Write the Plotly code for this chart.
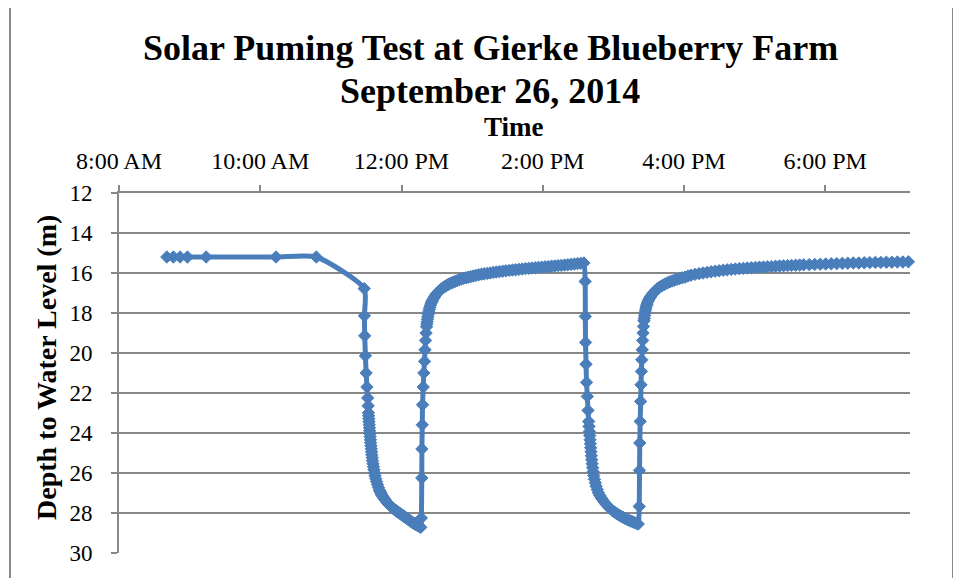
import plotly.graph_objects as go

# ---------------- data (time of day in decimal hours, depth to water in m) -------------
pre_time = [8.677, 8.770, 8.865, 8.969, 9.234, 10.223, 10.794]
pre_depth = [15.20, 15.20, 15.20, 15.20, 15.20, 15.20, 15.20]

# pumping cycle 1 - drawdown (logger readings, listed in two passes)
dd1_time = [11.472, 11.475, 11.479, 11.489, 11.499, 11.511, 11.521, 11.528, 11.532, 11.537,
            11.543, 11.549, 11.556, 11.563, 11.572, 11.580, 11.590, 11.603, 11.617, 11.635,
            11.660, 11.688, 11.705, 11.723, 11.745, 11.766, 11.791, 11.816, 11.841, 11.865,
            11.889, 11.915, 11.940, 11.965, 11.989, 12.014, 12.039, 12.064, 12.088, 12.113,
            12.139, 12.163, 12.187, 12.213, 12.238, 12.262, 12.272,
            11.5345, 11.540, 11.546, 11.5525, 11.5595, 11.5675, 11.576, 11.585, 11.5965, 11.610,
            11.626, 11.6475, 11.674, 11.6965, 11.714, 11.734, 11.7555, 11.7785, 11.8035, 11.8285,
            11.853, 11.877, 11.902, 11.9275, 11.9525, 11.977, 12.0015, 12.0265, 12.0515, 12.076,
            12.1005, 12.126, 12.151, 12.175, 12.200, 12.2255, 12.250]
dd1_depth = [16.78, 18.14, 19.14, 20.14, 21.00, 21.70, 22.25, 22.64, 22.99, 23.29,
             23.59, 23.89, 24.19, 24.49, 24.79, 25.09, 25.39, 25.69, 25.99, 26.29,
             26.59, 26.86, 26.99, 27.11, 27.23, 27.34, 27.45, 27.54, 27.63, 27.71,
             27.79, 27.86, 27.93, 27.99, 28.05, 28.11, 28.18, 28.24, 28.30, 28.36,
             28.43, 28.49, 28.54, 28.59, 28.64, 28.69, 28.72,
             23.14, 23.44, 23.74, 24.04, 24.34, 24.64, 24.94, 25.24, 25.54, 25.84,
             26.14, 26.44, 26.73, 26.93, 27.05, 27.17, 27.29, 27.40, 27.50, 27.59,
             27.67, 27.75, 27.83, 27.90, 27.96, 28.02, 28.08, 28.15, 28.21, 28.27,
             28.33, 28.40, 28.46, 28.52, 28.57, 28.62, 28.67]

# recovery 1
rec1_time = [12.281, 12.287, 12.289, 12.294, 12.298, 12.308, 12.316, 12.326, 12.333, 12.340,
             12.348, 12.355, 12.363, 12.373, 12.386, 12.401, 12.420, 12.443, 12.468, 12.496,
             12.529, 12.567, 12.610, 12.655, 12.705, 12.759, 12.817, 12.879, 12.946, 13.017,
             13.092, 13.172, 13.213, 13.255, 13.299, 13.343, 13.387, 13.433, 13.478, 13.525,
             13.571, 13.617, 13.663, 13.709, 13.755, 13.801, 13.847, 13.894, 13.940, 13.986,
             14.032, 14.078, 14.124, 14.170, 14.216, 14.262, 14.309, 14.355, 14.401, 14.447,
             14.492, 14.539, 14.582,
             12.359, 12.368, 12.379, 12.393, 12.410, 12.431, 12.455, 12.482, 12.512, 12.548,
             12.588, 12.632, 12.680, 12.732, 12.788, 12.848, 12.912, 12.981, 13.054, 13.132]
rec1_depth = [28.25, 26.25, 24.80, 23.59, 22.59, 21.70, 21.00, 20.42, 19.84, 19.37,
              19.00, 18.69, 18.44, 18.19, 17.94, 17.71, 17.51, 17.34, 17.19, 17.04,
              16.91, 16.79, 16.69, 16.59, 16.50, 16.42, 16.34, 16.27, 16.21, 16.15,
              16.09, 16.04, 16.02, 16.00, 15.97, 15.95, 15.93, 15.91, 15.89, 15.87,
              15.85, 15.84, 15.82, 15.80, 15.78, 15.77, 15.75, 15.74, 15.72, 15.71,
              15.69, 15.68, 15.66, 15.65, 15.63, 15.62, 15.60, 15.59, 15.57, 15.55,
              15.53, 15.52, 15.50,
              18.56, 18.31, 18.06, 17.82, 17.61, 17.42, 17.26, 17.11, 16.97, 16.85,
              16.74, 16.64, 16.54, 16.46, 16.38, 16.30, 16.24, 16.18, 16.12, 16.06]

# pumping cycle 2 - drawdown
dd2_time = [14.600, 14.603, 14.606, 14.613, 14.620, 14.631, 14.641, 14.650, 14.660, 14.670,
            14.678, 14.688, 14.699, 14.713, 14.732, 14.756, 14.787, 14.827, 14.872, 14.922,
            14.976, 15.030, 15.084, 15.138, 15.191, 15.245, 15.299, 15.352,
            14.655, 14.665, 14.674, 14.683, 14.6935, 14.706, 14.7225, 14.744, 14.7715, 14.807,
            14.8495, 14.897, 14.949, 15.003, 15.057, 15.111, 15.1645, 15.218, 15.272, 15.3255]
dd2_depth = [16.42, 18.17, 19.47, 20.56, 21.47, 22.17, 22.87, 23.42, 23.92, 24.34,
             24.74, 25.14, 25.54, 25.94, 26.31, 26.66, 26.99, 27.24, 27.46, 27.66,
             27.84, 27.99, 28.11, 28.22, 28.32, 28.40, 28.48, 28.55,
             23.67, 24.13, 24.54, 24.94, 25.34, 25.74, 26.13, 26.49, 26.83, 27.12,
             27.35, 27.56, 27.75, 27.92, 28.05, 28.17, 28.27, 28.36, 28.44, 28.52]

# recovery 2
rec2_time = [15.366, 15.370, 15.374, 15.380, 15.386, 15.391, 15.397, 15.402, 15.409, 15.414,
             15.420, 15.426, 15.433, 15.441, 15.452, 15.467, 15.485, 15.508, 15.535, 15.566,
             15.603, 15.645, 15.692, 15.745, 15.801, 15.865, 15.936, 16.014,
             15.437, 15.446, 15.459, 15.476, 15.496, 15.521, 15.550, 15.584, 15.624, 15.668,
             15.718, 15.773, 15.833, 15.900, 15.975, 16.056,
             16.099, 16.156, 16.213, 16.270, 16.327, 16.384, 16.441, 16.498, 16.555, 16.612,
             16.669, 16.726, 16.783, 16.840, 16.897, 16.954, 17.011, 17.068, 17.125, 17.182,
             17.239, 17.296, 17.353, 17.410, 17.467, 17.524, 17.581, 17.638, 17.695, 17.773,
             17.851, 17.929, 18.007, 18.085, 18.163, 18.241, 18.319, 18.397, 18.475, 18.553,
             18.631, 18.709, 18.787, 18.865, 18.943, 19.021, 19.099, 19.177, 19.213]
rec2_depth = [27.67, 25.87, 24.50, 23.42, 22.42, 21.59, 20.92, 20.34, 19.84, 19.37,
              19.00, 18.67, 18.39, 18.14, 17.89, 17.66, 17.46, 17.29, 17.14, 16.99,
              16.85, 16.74, 16.63, 16.53, 16.44, 16.36, 16.28, 16.21,
              18.27, 18.02, 17.78, 17.56, 17.37, 17.21, 17.06, 16.92, 16.79, 16.68,
              16.58, 16.48, 16.40, 16.32, 16.24, 16.15,
              16.11, 16.07, 16.03, 16.00, 15.97, 15.94, 15.91, 15.89, 15.86, 15.84,
              15.82, 15.80, 15.78, 15.77, 15.75, 15.74, 15.72, 15.71, 15.70, 15.69,
              15.68, 15.66, 15.65, 15.64, 15.63, 15.62, 15.61, 15.60, 15.59, 15.58,
              15.57, 15.56, 15.55, 15.54, 15.53, 15.52, 15.51, 15.50, 15.50, 15.49,
              15.48, 15.47, 15.47, 15.46, 15.46, 15.45, 15.45, 15.44, 15.44]

x_tick_vals = [8, 10, 12, 14, 16, 18]
x_tick_text = ["8:00 AM", "10:00 AM", "12:00 PM", "2:00 PM", "4:00 PM", "6:00 PM"]
y_tick_vals = [12, 14, 16, 18, 20, 22, 24, 26, 28, 30]

title_line1 = "Solar Puming Test at Gierke Blueberry Farm"
title_line2 = "September 26, 2014"
x_title = "Time"
y_title = "Depth to Water Level (m)"

# ---------------- figure ----------------
time_all, depth_all = [], []
for tt, dd in [(pre_time, pre_depth), (dd1_time, dd1_depth), (rec1_time, rec1_depth),
               (dd2_time, dd2_depth), (rec2_time, rec2_depth)]:
    for t, d in sorted(zip(tt, dd)):
        time_all.append(t)
        depth_all.append(d)

# the page body has an 8px margin, so the figure is laid out 8px smaller
W, H = 953, 570
L, T = 111, 185
PW, PH = 791, 360
R, B = W - L - PW, H - T - PH

def px(x):   # page pixel -> paper fraction
    return (x - 119) / PW

def py(y):
    return (553 - y) / PH

BLUE = "#4A7EBB"
GRID = "#878787"
FONT = "Liberation Serif, Times New Roman, serif"

fig = go.Figure()
fig.add_trace(go.Scatter(
    x=time_all, y=depth_all, mode="lines+markers",
    line=dict(color=BLUE, width=5, shape="spline", smoothing=0.6),
    marker=dict(symbol="diamond", size=9.5, color=BLUE, line=dict(color=BLUE, width=1)),
    cliponaxis=False, showlegend=False, hoverinfo="x+y",
))

fig.update_layout(
    width=W, height=H,
    margin=dict(l=L, r=R, t=T, b=B, pad=0),
    paper_bgcolor="white", plot_bgcolor="white",
    font=dict(family=FONT, color="black", size=24),
    xaxis=dict(
        range=[8, 19.2], side="top", tickvals=x_tick_vals, ticktext=x_tick_text,
        ticks="outside", ticklen=6, tickwidth=1.5, tickcolor=GRID,
        showline=True, linecolor=GRID, linewidth=1.7, showgrid=False, zeroline=False,
        tickfont=dict(family=FONT, size=24, color="black"), ticklabelstandoff=7,
        automargin=False,
    ),
    yaxis=dict(
        range=[30, 12], tickvals=y_tick_vals,
        ticks="outside", ticklen=6, tickwidth=1.5, tickcolor=GRID,
        showline=True, linecolor=GRID, linewidth=1.7,
        showgrid=True, gridcolor=GRID, gridwidth=1.7, zeroline=False,
        tickfont=dict(family=FONT, size=23, color="black"), ticklabelstandoff=14,
        automargin=False,
    ),
)

annos = [
    dict(text="<b>%s</b>" % title_line1, x=px(490), y=py(48), size=36),
    dict(text="<b>%s</b>" % title_line2, x=px(490), y=py(91), size=36),
    dict(text="<b>%s</b>" % x_title, x=px(514), y=py(127), size=27),
]
for a in annos:
    fig.add_annotation(text=a["text"], x=a["x"], y=a["y"], xref="paper", yref="paper",
                       xanchor="center", yanchor="middle", showarrow=False,
                       font=dict(family=FONT, size=a["size"], color="black"))
fig.add_annotation(text="<b>%s</b>" % y_title, x=px(46), y=py(368), xref="paper", yref="paper",
                   xanchor="center", yanchor="middle", textangle=-90, showarrow=False,
                   font=dict(family=FONT, size=28, color="black"))

# chart-area border (bottom edge lies outside the window)
BORDER = "#8a8a8a"
for x0, y0, x1, y1 in [(10, 3, 10, 600), (10, 3, 953, 3), (953, 3, 953, 600)]:
    fig.add_shape(type="line", xref="paper", yref="paper",
                  x0=px(x0), y0=py(y0), x1=px(x1), y1=py(y1),
                  line=dict(color=BORDER, width=2))

fig.write_html("out.html")
